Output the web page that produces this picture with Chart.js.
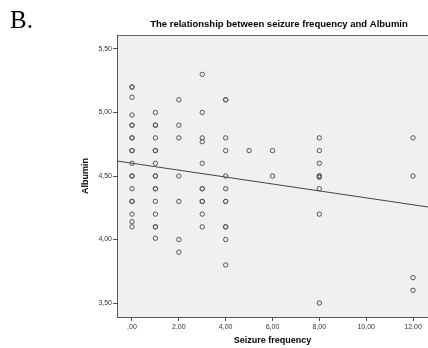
<!DOCTYPE html>
<html>
<head>
<meta charset="utf-8">
<script src="https://cdn.jsdelivr.net/npm/chart.js@4"></script>
<style>
  body { margin: 0; background: #fff; }
  #wrap { position: relative; width: 428px; height: 348px; }
</style>
</head>
<body>
<div id="wrap"><canvas id="scatterChart" width="428" height="348"></canvas></div>
<script>
// albumin values read per seizure frequency (repeats = overlapping markers)
const freqLevels = [0, 1, 2, 3, 4, 5, 6, 8, 12];
const alb0 = [5.20, 5.20, 5.12, 4.98, 4.90, 4.90, 4.80, 4.80, 4.70, 4.70, 4.60, 4.50, 4.50, 4.40, 4.30, 4.30, 4.20, 4.14, 4.10];
const alb1 = [5.00, 4.90, 4.90, 4.80, 4.70, 4.70, 4.60, 4.50, 4.50, 4.40, 4.40, 4.30, 4.20, 4.10, 4.10, 4.01];
const alb2 = [5.10, 4.90, 4.80, 4.50, 4.30, 4.00, 3.90];
const alb3 = [5.30, 5.00, 4.80, 4.77, 4.60, 4.40, 4.40, 4.30, 4.30, 4.20, 4.10];
const alb4 = [5.10, 5.10, 4.80, 4.70, 4.50, 4.40, 4.30, 4.30, 4.10, 4.10, 4.00, 3.80];
const alb5 = [4.70];
const alb6 = [4.70, 4.50];
const alb8 = [4.80, 4.70, 4.60, 4.50, 4.50, 4.49, 4.40, 4.20, 3.50];
const alb12 = [4.80, 4.50, 3.70, 3.60];
const albByFreq = [alb0, alb1, alb2, alb3, alb4, alb5, alb6, alb8, alb12];

// fit line end points
const fitX = [-0.64, 12.64];
const fitY = [4.618, 4.256];

const xTicks = [0, 2, 4, 6, 8, 10, 12];
const yTicks = [3.5, 4.0, 4.5, 5.0, 5.5];

const points = [];
freqLevels.forEach((f, i) => {
    albByFreq[i].forEach(v => points.push({ x: f, y: v }));
});
const fitPoints = fitX.map((x, i) => ({ x: x, y: fitY[i] }));

function commaLabel(v) {
    let s = Number(v).toFixed(2).replace('.', ',');
    if (s.startsWith('0,')) s = s.slice(1);
    return s;
}

const plotBg = {
    id: 'plotBg',
    beforeDraw(chart) {
        const { ctx, chartArea: a } = chart;
        ctx.save();
        ctx.fillStyle = '#f0f0f0';
        ctx.fillRect(a.left, a.top, a.right - a.left, a.bottom - a.top);
        ctx.strokeStyle = '#666';
        ctx.lineWidth = 1;
        ctx.beginPath();
        ctx.moveTo(a.left, a.top + 0.5);
        ctx.lineTo(a.right, a.top + 0.5);
        ctx.stroke();
        ctx.restore();
    },
    afterDraw(chart) {
        const ctx = chart.ctx;
        ctx.save();
        ctx.fillStyle = '#000';
        ctx.textBaseline = 'alphabetic';
        ctx.textAlign = 'left';
        ctx.font = '25px "Liberation Serif", "Times New Roman", serif';
        ctx.fillText('B.', 10, 28);
        ctx.textAlign = 'center';
        ctx.textBaseline = 'middle';
        ctx.font = 'bold 9.5px "Liberation Sans", Arial, sans-serif';
        ctx.fillText('The relationship between seizure frequency and Albumin', 279, 24);
        ctx.restore();
    }
};

new Chart(document.getElementById('scatterChart').getContext('2d'), {
    type: 'scatter',
    data: {
        datasets: [{
            label: 'Albumin',
            data: points,
            pointStyle: 'circle',
            pointRadius: 2.2,
            pointBorderWidth: 1,
            borderColor: '#555',
            backgroundColor: 'rgba(0,0,0,0)'
        }, {
            type: 'line',
            label: 'Fit',
            data: fitPoints,
            borderColor: '#444',
            borderWidth: 1,
            pointRadius: 0,
            fill: false,
            tension: 0
        }]
    },
    plugins: [plotBg],
    options: {
        responsive: false,
        animation: false,
        layout: { autoPadding: false, padding: { top: 35, right: 0, bottom: 2, left: 80 } },
        plugins: {
            legend: { display: false },
            tooltip: { enabled: false }
        },
        scales: {
            x: {
                type: 'linear',
                min: fitX[0],
                max: fitX[1],
                afterBuildTicks: scale => { scale.ticks = xTicks.map(v => ({ value: v })); },
                afterFit: scale => {
                    scale.height = 29;
                    scale.paddingLeft = 0;
                    scale.paddingRight = 0;
                },
                grid: { drawOnChartArea: false, drawTicks: true, tickLength: 4, color: '#555' },
                border: { display: true, color: '#555', width: 1 },
                ticks: {
                    color: '#333',
                    font: { family: '"Liberation Sans", Arial, sans-serif', size: 7 },
                    padding: 2,
                    maxRotation: 0,
                    callback: v => commaLabel(v)
                },
                title: {
                    display: true,
                    text: 'Seizure frequency',
                    color: '#000',
                    font: { family: '"Liberation Sans", Arial, sans-serif', size: 9, weight: 'bold' },
                    padding: 0
                }
            },
            y: {
                type: 'linear',
                min: 3.39,
                max: 5.61,
                afterBuildTicks: scale => { scale.ticks = yTicks.map(v => ({ value: v })); },
                afterFit: scale => {
                    scale.width = 37;
                    scale.paddingTop = 0;
                    scale.paddingBottom = 0;
                },
                grid: { drawOnChartArea: false, drawTicks: true, tickLength: 4, color: '#555' },
                border: { display: true, color: '#555', width: 1 },
                ticks: {
                    color: '#333',
                    font: { family: '"Liberation Sans", Arial, sans-serif', size: 7 },
                    padding: 1,
                    callback: v => commaLabel(v)
                },
                title: {
                    display: true,
                    text: 'Albumin',
                    color: '#000',
                    font: { family: '"Liberation Sans", Arial, sans-serif', size: 9, weight: 'bold' },
                    padding: 0
                }
            }
        }
    }
});
</script>
</body>
</html>
